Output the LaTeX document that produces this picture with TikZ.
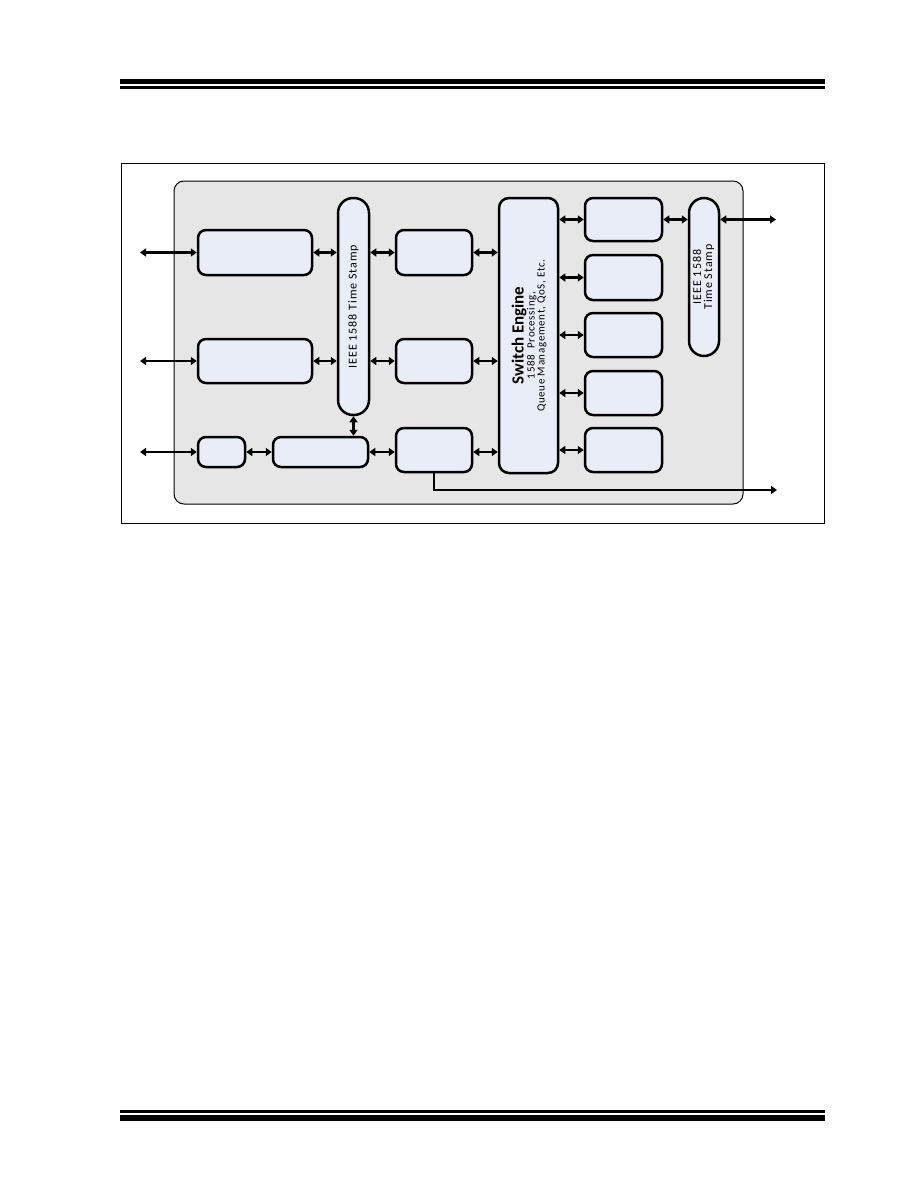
\documentclass[tikz,border=0pt]{standalone}
\usepackage{fontspec}
\usepackage{graphicx}
\setmainfont{Carlito}
\newfontfamily\tsfont[LetterSpace=8]{Carlito}
\newfontfamily\sefont[LetterSpace=6]{Carlito}
\usetikzlibrary{arrows.meta}
\definecolor{boxblue}{RGB}{232,237,247}
\definecolor{bggray}{RGB}{230,230,230}
\begin{document}
\begin{tikzpicture}[x=1pt,y=-1pt,
  blk/.style={draw=black,line width=2.5pt,fill=boxblue,rounded corners=8pt,inner sep=0pt},
  pill/.style={blk,rounded corners=15pt,font=\tsfont\fontsize{12}{13}\selectfont},
  dbl/.style={line width=2.4pt,{Triangle[length=6pt,width=8pt]}-{Triangle[length=6pt,width=8pt]}},
  sgl/.style={line width=2.4pt,-{Triangle[length=6pt,width=8pt]}},
  rulebar/.style={fill=black,draw=none}]
\useasboundingbox (0,0) rectangle (918,1188);
% page rules
\fill[rulebar] (120,79) rectangle (825,84.5);
\fill[rulebar] (120,86.5) rectangle (825,89);
\fill[rulebar] (120,1110) rectangle (825,1112.5);
\fill[rulebar] (120,1114.5) rectangle (825,1120.5);
% frame and background
\draw[line width=1pt] (121,163) rectangle (824,523);
\draw[line width=1pt,fill=bggray,rounded corners=10pt] (174,181) rectangle (743,504);
% left column
\node[blk,minimum width=114pt,minimum height=45pt] (A1) at (255,252.5) {};
\node[blk,minimum width=114pt,minimum height=44pt] (A2) at (255,361) {};
\node[blk,minimum width=47pt,minimum height=30pt] (A3s) at (221.5,452) {};
\node[blk,minimum width=95pt,minimum height=30pt] (A3m) at (320.5,452) {};
\node[pill,minimum width=31pt,minimum height=217pt] (TS) at (353.5,306.5) {\rotatebox{90}{IEEE 1588 Time Stamp}};
\node[blk,minimum width=76pt,minimum height=45pt] (B1) at (434,252.5) {};
\node[blk,minimum width=76pt,minimum height=44pt] (B2) at (434,361) {};
\node[blk,minimum width=76pt,minimum height=44pt] (B3) at (434,450) {};
\node[blk,rounded corners=10pt,minimum width=59pt,minimum height=275pt] (SE) at (528.5,335.5)
  {\hspace*{3pt}\rotatebox{90}{\begin{tabular}{@{}c@{}}
   {\fontsize{17}{19}\selectfont\bfseries Switch Engine}\\[-1pt]
   {\sefont\fontsize{11}{11}\selectfont 1588~~Processing,}\\[-2pt]
   {\sefont\fontsize{11}{11}\selectfont Queue Management, QoS, Etc.}
   \end{tabular}}};
\node[blk,minimum width=77pt,minimum height=43pt] (C1) at (623.5,219.5) {};
\node[blk,minimum width=77pt,minimum height=45pt] (C2) at (623.5,277.5) {};
\node[blk,minimum width=77pt,minimum height=44pt] (C3) at (623.5,335) {};
\node[blk,minimum width=77pt,minimum height=44pt] (C4) at (623.5,393) {};
\node[blk,minimum width=77pt,minimum height=44pt] (C5) at (623.5,450) {};
\node[pill,minimum width=30pt,minimum height=158pt] (TS2) at (704,277)
  {\rotatebox{90}{\begin{tabular}{@{}c@{}}IEEE 1588\\[-2pt]Time Stamp\end{tabular}}};
% free ends
\coordinate (L1) at (140,252.5);
\coordinate (L2) at (140,361);
\coordinate (L3) at (140,452);
\coordinate (R1) at (776,219.5);
\coordinate (R2) at (777,490);
% connectors
\draw[dbl] (L1) -- (A1.west);
\draw[dbl] (L2) -- (A2.west);
\draw[dbl] (L3) -- (A3s.west);
\draw[dbl] (A1.east) -- (A1.east -| TS.west);
\draw[dbl] (A2.east) -- (A2.east -| TS.west);
\draw[dbl] (B1.west -| TS.east) -- (B1.west);
\draw[dbl] (B2.west -| TS.east) -- (B2.west);
\draw[dbl] (A3s.east) -- (A3m.west);
\draw[dbl] (A3m.east) -- (A3m.east -| B3.west);
\draw[dbl] (TS.south) -- (TS.south |- A3m.north);
\draw[dbl] (B1.east) -- (B1.east -| SE.west);
\draw[dbl] (B2.east) -- (B2.east -| SE.west);
\draw[dbl] (A3m.east -| B3.east) -- (A3m.east -| SE.west);
\draw[dbl] (C1.west -| SE.east) -- (C1.west);
\draw[dbl] (C2.west -| SE.east) -- (C2.west);
\draw[dbl] (C3.west -| SE.east) -- (C3.west);
\draw[dbl] (C4.west -| SE.east) -- (C4.west);
\draw[dbl] (C5.west -| SE.east) -- (C5.west);
\draw[dbl] (C1.east) -- (C1.east -| TS2.west);
\draw[dbl] (C1.east -| TS2.east) -- (R1);
\draw[sgl] (B3.south) -- (B3.south |- R2) -- (R2);
\end{tikzpicture}
\end{document}
